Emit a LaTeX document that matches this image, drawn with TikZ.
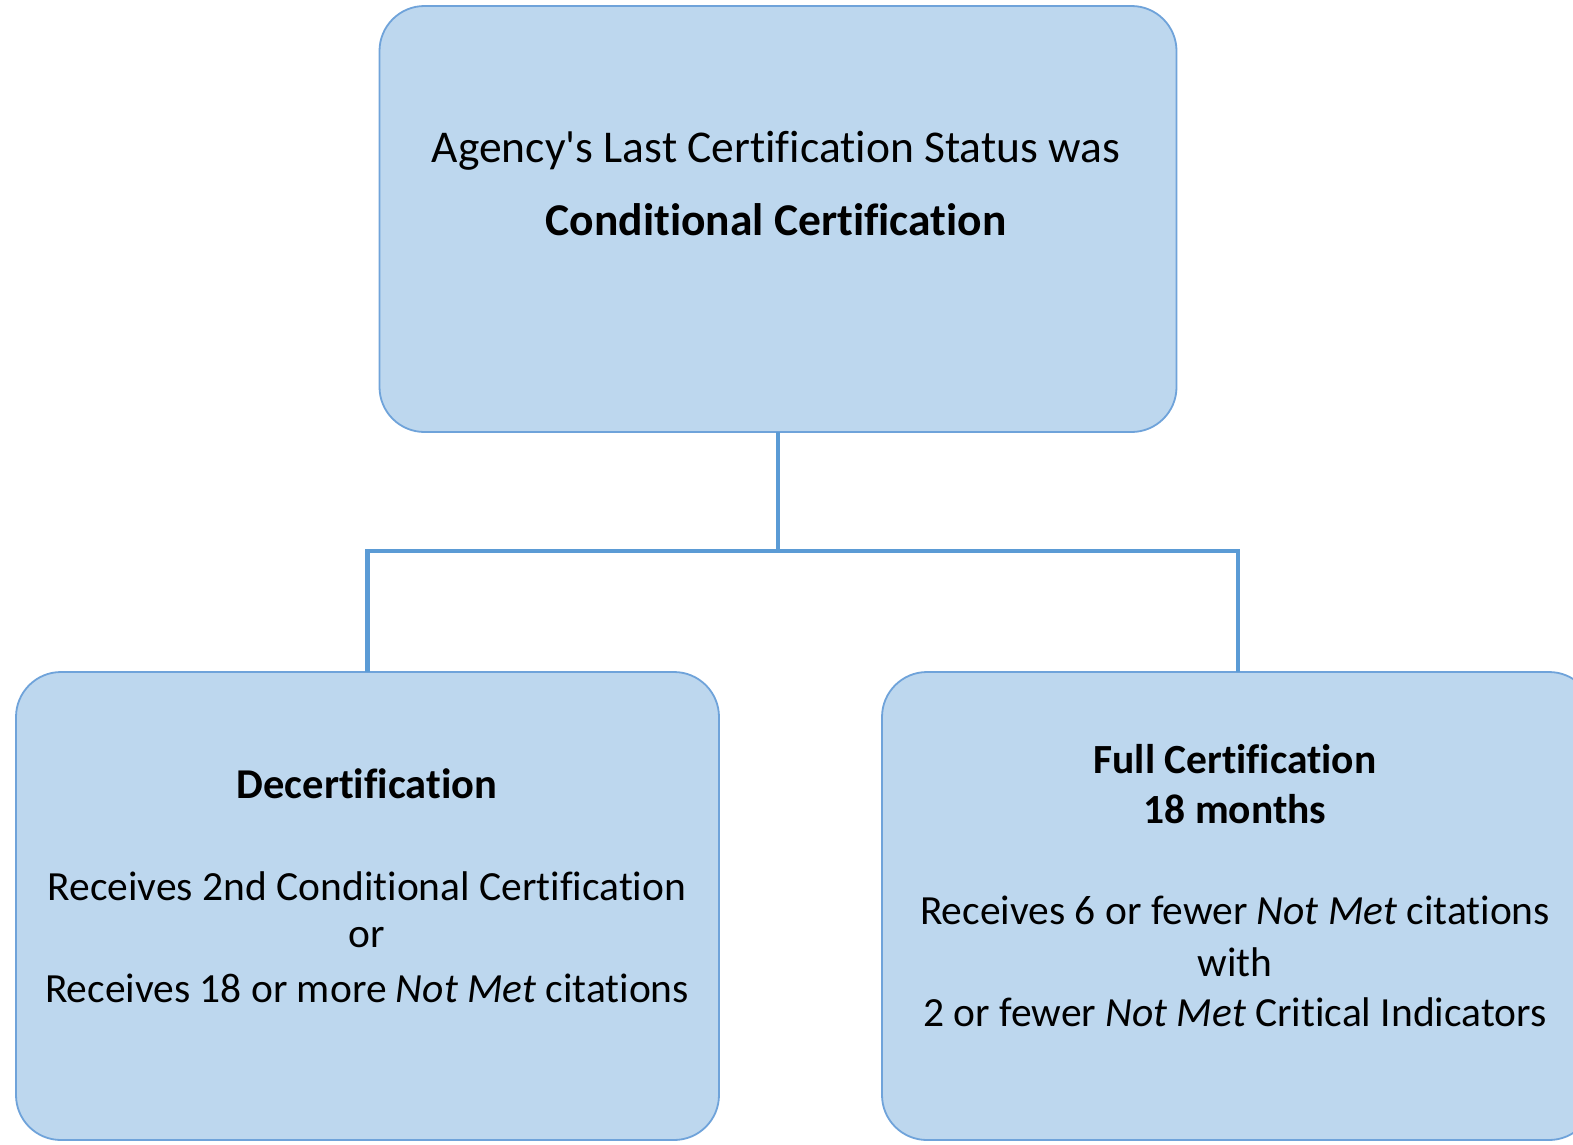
\documentclass[tikz,border=0pt]{standalone}
\usepackage{fontspec}
\newfontfamily\calfont{Carlito}[Ligatures=NoCommon]
\definecolor{boxfill}{HTML}{BDD7EE}
\definecolor{boxline}{HTML}{6FA3DA}
\definecolor{conn}{HTML}{5B9BD5}
\begin{document}
\begin{tikzpicture}[x=1pt,y=-1pt,
  card/.style={draw=boxline,line width=1.8pt,fill=boxfill,rounded corners=45pt,
    rectangle,inner sep=0pt,outer sep=0pt},
  link/.style={draw=conn,line width=4.8pt},
  big/.style={font=\calfont\fontsize{45.5}{55}\selectfont,inner sep=0pt,anchor=center},
  body/.style={font=\calfont\fontsize{41.5}{51}\selectfont,inner sep=0pt,anchor=center}]
\clip (0,0) rectangle (1573,1144);
\fill[white] (0,0) rectangle (1573,1144);
% boxes
\node[card, minimum width=797pt, minimum height=426pt] (top) at (778,219) {};
\node[card, minimum width=703pt, minimum height=468pt] (left) at (367.5,906) {};
\node[card, minimum width=712pt, minimum height=468pt] (right) at (1238,906) {};
% connectors
\coordinate (j) at (778,551);
\draw[link] (top.south) -- (j);
\draw[link] (j) -| (left.north);
\draw[link] (j) -| (right.north);
% texts
\node[big] (t1) at (776,151) {Agency's Last Certification Status was};
\node[big] (t2) at (776,220) {\bfseries Conditional Certification};
\node[body] (l1) at (367,784) {\fontsize{42.5}{51}\selectfont\bfseries Decertification};
\node[body] (l2) at (367,886) {Receives 2nd Conditional Certification};
\node[body] (l3) at (367,938) {or};
\node[body] (l4) at (367,988) {Receives 18 or more \textit{Not Met} citations};
\node[body] (r1) at (1235,759) {\bfseries Full Certification};
\node[body] (r2) at (1235,809) {\bfseries 18 months};
\node[body] (r3) at (1235,910) {Receives 6 or fewer \textit{Not Met} citations};
\node[body] (r4) at (1235,962) {with};
\node[body] (r5) at (1235,1012) {2 or fewer \textit{Not Met} Critical Indicators};
\end{tikzpicture}
\end{document}
